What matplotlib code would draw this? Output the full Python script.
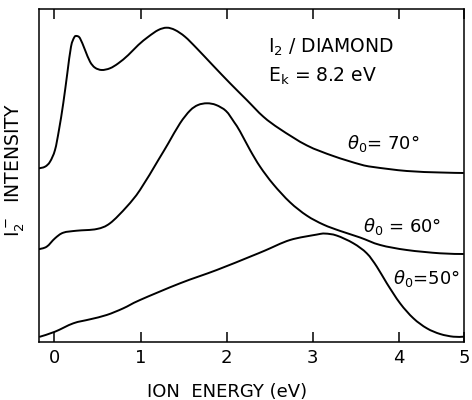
import matplotlib
matplotlib.use("Agg")
import matplotlib.pyplot as plt
from matplotlib.path import Path
from matplotlib.patches import PathPatch

plt.rcParams['font.family'] = ['DejaVu Sans']
plt.rcParams['mathtext.fontset'] = 'dejavusans'

# Ion energy (eV) and I2- intensity (arb. units)
x70 = [-0.188, -0.110, -0.052, 0.006, 0.052, 0.102, 0.149, 0.192, 0.230, 0.258, 0.297,
       0.355, 0.413, 0.471, 0.549, 0.645, 0.742, 0.858, 0.974, 1.091, 1.207, 1.305,
       1.401, 1.517, 1.653, 1.847, 2.041, 2.235, 2.428, 2.622, 2.933, 3.242, 3.552,
       3.707, 4.095, 4.483, 4.750]
y70 = [52.07, 52.60, 54.10, 57.62, 63.63, 71.66, 80.67, 88.67, 91.49, 91.88, 91.19,
       87.68, 84.16, 82.36, 81.67, 82.18, 83.68, 86.17, 89.18, 91.67, 93.69, 94.38,
       93.69, 91.67, 88.20, 82.90, 77.67, 72.65, 67.63, 63.90, 59.00, 55.80, 53.30,
       52.50, 51.31, 50.86, 50.71]

x60 = [-0.188, -0.091, 0.006, 0.102, 0.258, 0.491, 0.645, 0.840, 0.994, 1.207,
       1.323, 1.459, 1.576, 1.669, 1.773, 1.878, 1.994, 2.087, 2.157, 2.273, 2.390,
       2.544, 2.738, 2.933, 3.126, 3.320, 3.552, 3.785, 4.095, 4.483, 4.750]
y60 = [27.77, 28.55, 31.08, 32.76, 33.36, 33.87, 35.59, 40.58, 45.60, 54.61,
       59.63, 65.64, 69.49, 71.15, 71.66, 71.15, 69.34, 66.04, 63.20, 57.62, 52.60,
       47.30, 41.90, 37.90, 35.20, 33.30, 31.32, 29.07, 27.56, 26.57, 26.36]

x50 = [-0.169, 0.006, 0.219, 0.413, 0.607, 0.800, 0.994, 1.459, 1.886, 2.273, 2.448,
       2.738, 3.049, 3.145, 3.281, 3.474, 3.630, 3.747, 3.863, 4.017, 4.172, 4.328,
       4.483, 4.637, 4.750]
y50 = [1.50, 3.01, 5.53, 6.73, 8.03, 10.04, 12.53, 17.55, 21.55, 25.55, 27.41,
       30.57, 32.20, 32.50, 31.90, 29.58, 26.57, 22.54, 17.55, 11.54, 7.03, 4.03,
       2.31, 1.50, 1.50]

tick_vals = [0, 1, 2, 3, 4, 4.76]
tick_labels = ['0', '1', '2', '3', '4', '5']


def smooth_path(xs, ys):
    """Catmull-Rom curve through every read point, as cubic Bezier segments."""
    pts = list(zip(xs, ys))
    verts = [pts[0]]
    codes = [Path.MOVETO]
    n = len(pts)
    for i in range(n - 1):
        p0 = pts[i - 1] if i > 0 else pts[i]
        p1 = pts[i]
        p2 = pts[i + 1]
        p3 = pts[i + 2] if i + 2 < n else pts[i + 1]
        c1 = (p1[0] + (p2[0] - p0[0]) / 6, p1[1] + (p2[1] - p0[1]) / 6)
        c2 = (p2[0] - (p3[0] - p1[0]) / 6, p2[1] - (p3[1] - p1[1]) / 6)
        verts += [c1, c2, p2]
        codes += [Path.CURVE4] * 3
    return Path(verts, codes)


fig = plt.figure(figsize=(4.72, 4.0), dpi=100)
ax = fig.add_axes([39/472, 1 - 341.7/400, 425/472, 332.7/400])

for xs, ys in [(x70, y70), (x60, y60), (x50, y50)]:
    ax.add_patch(PathPatch(smooth_path(xs, ys), facecolor='none', edgecolor='black',
                           lw=1.4, capstyle='round', joinstyle='round'))

ax.set_xlim(-0.18, 4.76)
ax.set_ylim(0, 100)
ax.set_yticks([])
ax.set_xticks(tick_vals)
ax.set_xticklabels(tick_labels, fontsize=13)
ax.tick_params(axis='x', direction='in', length=7, width=1.1, top=True, pad=5)
for s in ax.spines.values():
    s.set_linewidth(1.1)

ax.text(2.48, 88.6, r'$\mathregular{I_2}$ / DIAMOND', fontsize=13.5, ha='left', va='center')
ax.text(2.48, 79.9, r'$\mathregular{E_k}$ = 8.2 eV', fontsize=13.5, ha='left', va='center')
ax.text(3.40, 59.7, r'$\theta_0$= 70°', fontsize=13, ha='left', va='center')
ax.text(3.59, 34.7, r'$\theta_0$ = 60°', fontsize=13, ha='left', va='center')
ax.text(3.94, 19.1, r'$\theta_0$=50°', fontsize=13, ha='left', va='center')

fig.text(227/472, 1 - 392/400, 'ION  ENERGY (eV)', fontsize=13, ha='center', va='center')
fig.text(15/472, 1 - 170/400, r'$\mathregular{I_2^-}$  INTENSITY', fontsize=13.5,
         rotation=90, ha='center', va='center')

fig.savefig('out.png', dpi=100)
